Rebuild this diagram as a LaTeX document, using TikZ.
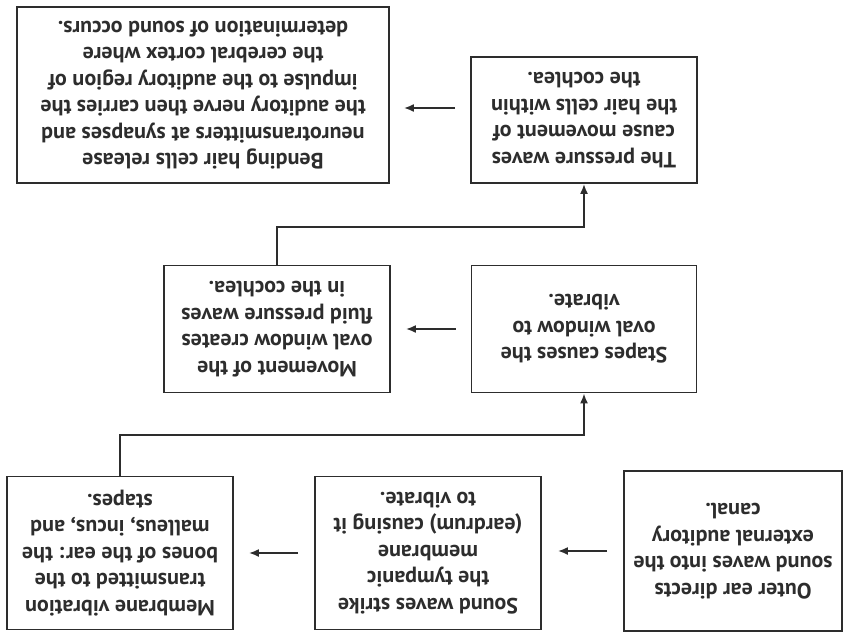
\documentclass[tikz,border=0pt]{standalone}
\usepackage{fontspec}
\setmainfont{PT Sans}
\usetikzlibrary{arrows.meta}

\definecolor{inkgray}{RGB}{45,45,45}

\tikzset{
  stepbox/.style={draw=inkgray, line width=1.8pt, rotate=180, align=center,
    text=inkgray, font=\bfseries\fontsize{22}{26.5}\selectfont, inner sep=0pt},
  flow/.style={draw=inkgray, line width=1.8pt, -{Latex[length=10pt,width=8pt]}},
}

\begin{document}
\begin{tikzpicture}[x=1pt,y=-1pt]
   \useasboundingbox (0,0) rectangle (843,632);
   % the whole chart is printed upside down
   \node[stepbox, minimum width=218pt, minimum height=160pt] (outer) at (733,551)
      {Outer ear directs\\sound waves into the\\external auditory\\canal.};
   \node[stepbox, minimum width=226pt, minimum height=153pt] (strike) at (428,553)
      {Sound waves strike\\the tympanic\\membrane\\(eardrum) causing it\\to vibrate.};
   \node[stepbox, minimum width=226pt, minimum height=153pt] (membrane) at (120,553)
      {Membrane vibration\\transmitted to the\\bones of the ear: the\\malleus, incus, and\\stapes.};
   \node[stepbox, minimum width=225pt, minimum height=127pt] (stapes) at (584,329)
      {Stapes causes the\\oval window to\\vibrate.};
   \node[stepbox, minimum width=226pt, minimum height=127pt] (oval) at (277,329)
      {Movement of the\\oval window creates\\fluid pressure waves\\in the cochlea.};
   \node[stepbox, minimum width=226pt, minimum height=126pt] (pressure) at (584,120)
      {The pressure waves\\cause movement of\\the hair cells within\\the cochlea.};
   \node[stepbox, minimum width=372pt, minimum height=176pt] (bending) at (203,95)
      {Bending hair cells release\\neurotransmitters at synapses and\\the auditory nerve then carries the\\impulse to the auditory region of\\the cerebral cortex where\\determination of sound occurs.};

   \draw[flow, shorten <=16pt, shorten >=16pt] (outer.east) -- (outer.east -| strike.west);
   \draw[flow, shorten <=16pt, shorten >=15pt] (strike.east) -- (strike.east -| membrane.west);
   \draw[flow] (membrane.south) -- ++(0,-41) -| (stapes.north);
   \draw[flow, shorten <=15pt, shorten >=15pt] (stapes.east) -- (stapes.east -| oval.west);
   \draw[flow] (oval.south) -- ++(0,-38) -| (pressure.north);
   \draw[flow, shorten <=15pt, shorten >=14pt] ([yshift=12pt]pressure.east) -- ([yshift=12pt]pressure.east -| bending.west);
\end{tikzpicture}
\end{document}
